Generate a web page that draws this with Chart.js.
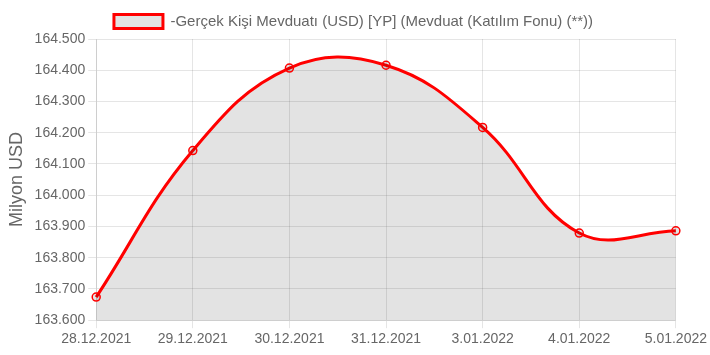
<!DOCTYPE html>
<html><head><meta charset="utf-8">
<script src="https://cdn.jsdelivr.net/npm/chart.js@4/dist/chart.umd.min.js"></script>
<style>html,body{margin:0;padding:0;background:#fff}#wrap{width:710px;height:355px}</style>
</head><body><div id="wrap"><canvas id="c"></canvas></div>
<script>
const categories = ["28.12.2021","29.12.2021","30.12.2021","31.12.2021","3.01.2022","4.01.2022","5.01.2022"];
const seriesValues = [163674, 164143, 164407, 164416, 164217, 163879, 163886];
const seriesLabel = "-Gerçek Kişi Mevduatı (USD) [YP] (Mevduat (Katılım Fonu) (**))";
const yTitle = "Milyon USD";
const yMin = 163600, yMax = 164500, yStep = 100;

function fmt(v){ return String(Math.round(v)).replace(/\B(?=(\d{3})+(?!\d))/g, "."); }
const FONT = "'Liberation Sans', Arial, sans-serif";
Chart.defaults.font.family = FONT;
Chart.defaults.color = "#666";
new Chart(document.getElementById('c'), {
  type: 'line',
  data: { labels: categories, datasets: [{
    label: seriesLabel, data: seriesValues,
    borderColor: 'red', borderWidth: 3, backgroundColor: 'rgba(0,0,0,0.11)',
    fill: 'start', tension: 0.4,
    pointRadius: 4, pointBorderWidth: 1.5, pointBorderColor: 'red', pointBackgroundColor: 'rgba(0,0,0,0.1)'
  }]},
  options: {
    responsive: true, maintainAspectRatio: false, animation: false,
    layout: { padding: { left: 2, right: 5, top: 0, bottom: 4 } },
    plugins: {
      legend: { labels: { font: { size: 15 }, boxWidth: 49, boxHeight: 14, padding: 14, color: '#666' } },
      tooltip: { enabled: false }
    },
    scales: {
      x: { grid: { color: 'rgba(0,0,0,0.1)', tickLength: 8 }, ticks: { font: { size: 14 }, color: '#666', maxRotation: 0 } },
      y: { min: yMin, max: yMax,
           grid: { color: 'rgba(0,0,0,0.1)', tickLength: 8 },
           ticks: { stepSize: yStep, font: { size: 14 }, color: '#666', callback: v => fmt(v) },
           title: { display: true, text: yTitle, font: { size: 18 }, color: '#666' } }
    }
  }
});
</script></body></html>
